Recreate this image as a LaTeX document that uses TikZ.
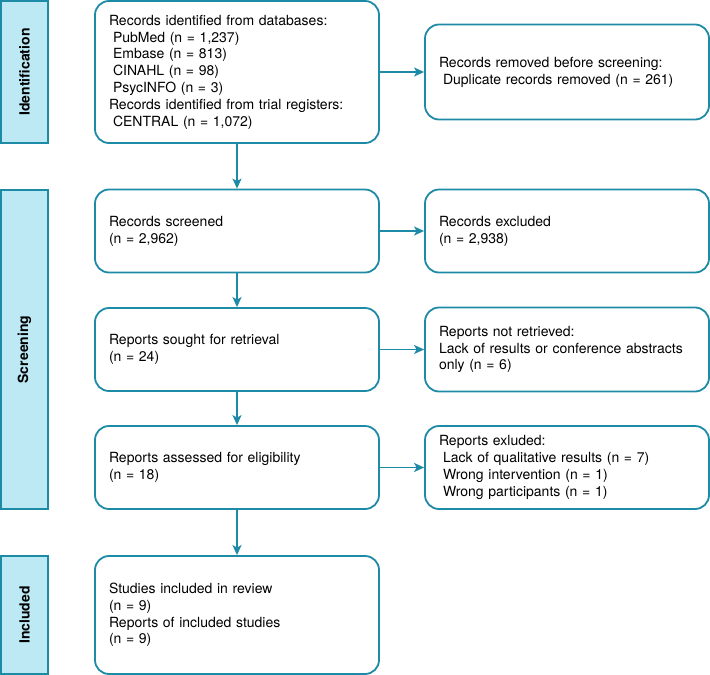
\documentclass[tikz,border=0pt]{standalone}
\usepackage{fontspec}
\setmainfont{TeX Gyre Heros}
\usetikzlibrary{arrows.meta}
\definecolor{teal1}{RGB}{30,139,166}
\definecolor{phasefill}{RGB}{189,233,245}
\tikzset{
  box/.style={draw=teal1, line width=1.8pt, rounded corners=14pt, fill=white,
    inner sep=0pt, align=left, font=\fontsize{14}{16.8}\selectfont},
  leftbox/.style={box, minimum width=284pt, text width=256pt},
  rightbox/.style={box, minimum width=284pt, text width=256pt},
  phase/.style={draw=teal1, line width=1.8pt, fill=phasefill, minimum width=47pt,
    inner sep=0pt, font=\fontsize{14}{16.8}\selectfont\bfseries},
  arr/.style={draw=teal1, line width=1.6pt, -{Stealth[length=10pt,width=9pt,inset=2.5pt]}}
}
\newcommand{\ind}{\hspace*{4pt}}
\begin{document}
\begin{tikzpicture}[x=1pt,y=-1pt]
\useasboundingbox (0,0) rectangle (710,675);
% phases
\node[phase, minimum height=142pt] (p1) at (24.5,72) {\rotatebox{90}{Identification}};
\node[phase, minimum height=319pt] (p2) at (24.5,349.5) {\rotatebox{90}{Screening}};
\node[phase, minimum height=118pt] (p3) at (24.5,615) {\rotatebox{90}{Included}};
% left column
\node[leftbox, minimum height=142pt] (b1) at (237,72) {Records identified from databases:\\
\ind PubMed (n = 1,237)\\
\ind Embase (n = 813)\\
\ind CINAHL (n = 98)\\
\ind PsycINFO (n = 3)\\
Records identified from trial registers:\\
\ind CENTRAL (n = 1,072)};
\node[leftbox, minimum height=83pt] (b2) at (237,231) {Records screened\\(n = 2,962)};
\node[leftbox, minimum height=83pt] (b3) at (237,349.5) {Reports sought for retrieval\\(n = 24)};
\node[leftbox, minimum height=83pt] (b4) at (237,467.5) {Reports assessed for eligibility\\(n = 18)};
\node[leftbox, minimum height=118pt] (b5) at (237,615) {Studies included in review\\(n = 9)\\Reports of included studies\\(n = 9)};
% right column
\node[rightbox, minimum height=95pt] (r1) at (567,72) {Records removed before screening:\\\ind Duplicate records removed (n = 261)};
\node[rightbox, minimum height=83pt] (r2) at (567,231) {Records excluded\\(n = 2,938)};
\node[rightbox, minimum height=84pt] (r3) at (567,349.5) {Reports not retrieved:\\Lack of results or conference abstracts\\only (n = 6)};
\node[rightbox, minimum height=83pt] (r4) at (567,467.5) {Reports exluded:\\\ind Lack of qualitative results (n = 7)\\\ind Wrong intervention (n = 1)\\\ind Wrong participants (n = 1)};
% arrows
\draw[arr] (b1) -- (b2);
\draw[arr] (b2) -- (b3);
\draw[arr] (b3) -- (b4);
\draw[arr] (b4) -- (b5);
\draw[arr] (b1) -- (r1);
\draw[arr] (b2) -- (r2);
\draw[arr] (b3) -- (r3);
\draw[arr] (b4) -- (r4);
\end{tikzpicture}
\end{document}
